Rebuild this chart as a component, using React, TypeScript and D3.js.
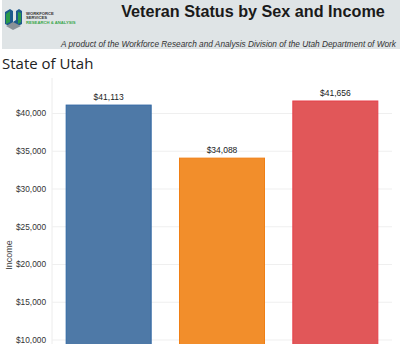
import React from "react";
import * as d3 from "d3";

const categories = ["Group A", "Group B", "Group C"];
const incomes = [41113, 34088, 41656];
const colors = ["#4e79a7", "#f28e2b", "#e15759"];
const strokes = ["#2f66a3", "#f07f14", "#e5404a"];
const yTicks = [10000, 15000, 20000, 25000, 30000, 35000, 40000];

const W = 400;
const H = 344;

export default function App() {
  const x = d3
    .scaleBand<string>()
    .domain(categories)
    .range([52, 392])
    .paddingInner(0.25)
    .paddingOuter(0.125);
  const y = d3.scaleLinear().domain([0, 40000]).range([415.5, 113.5]);
  const fmt = d3.format("$,.0f");

  return (
    <svg
      width={W}
      height={H}
      style={{ position: "fixed", left: 0, top: 0, background: "#fff" }}
      fontFamily="Liberation Sans, Arial, sans-serif"
    >
      {/* header band */}
      <rect x={2} y={0} width={398} height={49} fill="#dfe4e6" />
      {/* logo */}
      <g>
        <path d="M5,24 L5,12 L10,9 L13,11 L13,22 L16,20 L16,11 L19,9 L22,11 L22,24 L18,26 L13,24 L9,26 Z" fill="#1d5a8c" />
        <path d="M6,14 L10,11 L10,22 L6,24 Z" fill="#2a9a4a" />
        <path d="M18,12 L21,13 L21,22 L18,24 Z" fill="#2a9a4a" />
        <path d="M6,26 L13,22 L21,26 L13,30 Z" fill="#8a9298" />
        <text x={26} y={14.5} fontSize={4.2} fontWeight="bold" fill="#333">WORKFORCE</text>
        <text x={26} y={19} fontSize={4.2} fontWeight="bold" fill="#333">SERVICES</text>
        <text x={26} y={23.5} fontSize={4.2} fontWeight="bold" fill="#3aa64a">RESEARCH &amp; ANALYSIS</text>
      </g>
      <text x={253} y={17} textAnchor="middle" fontSize={16.2} fontWeight="bold" fill="#1a1a1a">
        Veteran Status by Sex and Income
      </text>
      <text
        x={61}
        y={47}
        fontSize={8.2}
        fontStyle="italic"
        fill="#333"
        textLength={335}
        lengthAdjust="spacingAndGlyphs"
      >
        A product of the Workforce Research and Analysis Division of the Utah Department of Work
      </text>

      <text x={2} y={69} fontSize={15} fill="#222" fontFamily="Open Sans, sans-serif">
        State of Utah
      </text>

      {/* axis line */}
      <line x1={52} x2={52} y1={78} y2={H} stroke="#ececec" />
      {/* gridlines */}
      {yTicks.map((t) => (
        <line key={t} x1={52} x2={392} y1={y(t)} y2={y(t)} stroke="#efefef" strokeWidth={1} />
      ))}
      {yTicks.map((t) => (
        <text
          key={"l" + t}
          x={46}
          y={y(t)}
          dy="0.35em"
          textAnchor="end"
          fontSize={8.3}
          fill="#333"
        >
          {fmt(t)}
        </text>
      ))}
      <text
        transform={`translate(12,255) rotate(-90)`}
        textAnchor="middle"
        fontSize={9}
        fill="#444"
      >
        Income
      </text>

      {categories.map((c, i) => (
        <g key={c}>
          <rect
            x={x(c)!}
            y={y(incomes[i])}
            width={x.bandwidth()}
            height={y(0) - y(incomes[i])}
            fill={colors[i]}
            stroke={strokes[i]}
            strokeWidth={1}
          />
          <text
            x={x(c)! + x.bandwidth() / 2}
            y={y(incomes[i]) - 5}
            textAnchor="middle"
            fontSize={8.5}
            fill="#222"
          >
            {fmt(incomes[i])}
          </text>
        </g>
      ))}
    </svg>
  );
}
